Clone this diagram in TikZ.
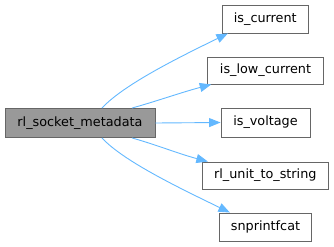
\documentclass[tikz,border=0pt]{standalone}
\usepackage{fontspec}
\setmainfont{DejaVu Sans}
\usetikzlibrary{arrows.meta}
\definecolor{edgeblue}{RGB}{99,184,255}
\begin{document}
\begin{tikzpicture}[x=1pt,y=-1pt,
  fn/.style={draw=black!60,fill=white,line width=0.9pt,inner sep=0pt,
    font=\fontsize{12.8}{15}\selectfont},
  cur/.style={fn,fill=black!40},
  call/.style={draw=edgeblue,line width=0.9pt,
    -{Triangle[length=11.5pt,width=9pt,fill=edgeblue]}}]
\useasboundingbox (0,0) rectangle (334,246);
\node[cur,minimum width=150pt,minimum height=29pt] (main) at (80,123) {rl\_socket\_metadata};
\node[fn,minimum width=86pt,minimum height=28pt] (a) at (265.3,19) {is\_current};
\node[fn,minimum width=115.6pt,minimum height=27pt] (b) at (265.5,70.5) {is\_low\_current};
\node[fn,minimum width=89pt,minimum height=29pt] (c) at (265.5,122.5) {is\_voltage};
\node[fn,minimum width=126pt,minimum height=27pt] (d) at (265.3,175.5) {rl\_unit\_to\_string};
\node[fn,minimum width=92.4pt,minimum height=28pt] (e) at (265.5,227) {snprintfcat};
\draw[call] ([xshift=22pt]main.north) .. controls +(22,-24) and +(-45,22) .. ([xshift=6pt]a.south west);
\draw[call] ([xshift=52pt]main.north) .. controls +(25,-7) and +(-30,8) .. ([xshift=4pt]b.south west);
\draw[call] (main.east) -- (c.west);
\draw[call] ([xshift=52pt]main.south) .. controls +(25,7) and +(-30,-8) .. ([xshift=6pt]d.north west);
\draw[call] ([xshift=22pt]main.south) .. controls +(22,24) and +(-45,-22) .. ([xshift=11pt]e.north west);
\end{tikzpicture}
\end{document}
